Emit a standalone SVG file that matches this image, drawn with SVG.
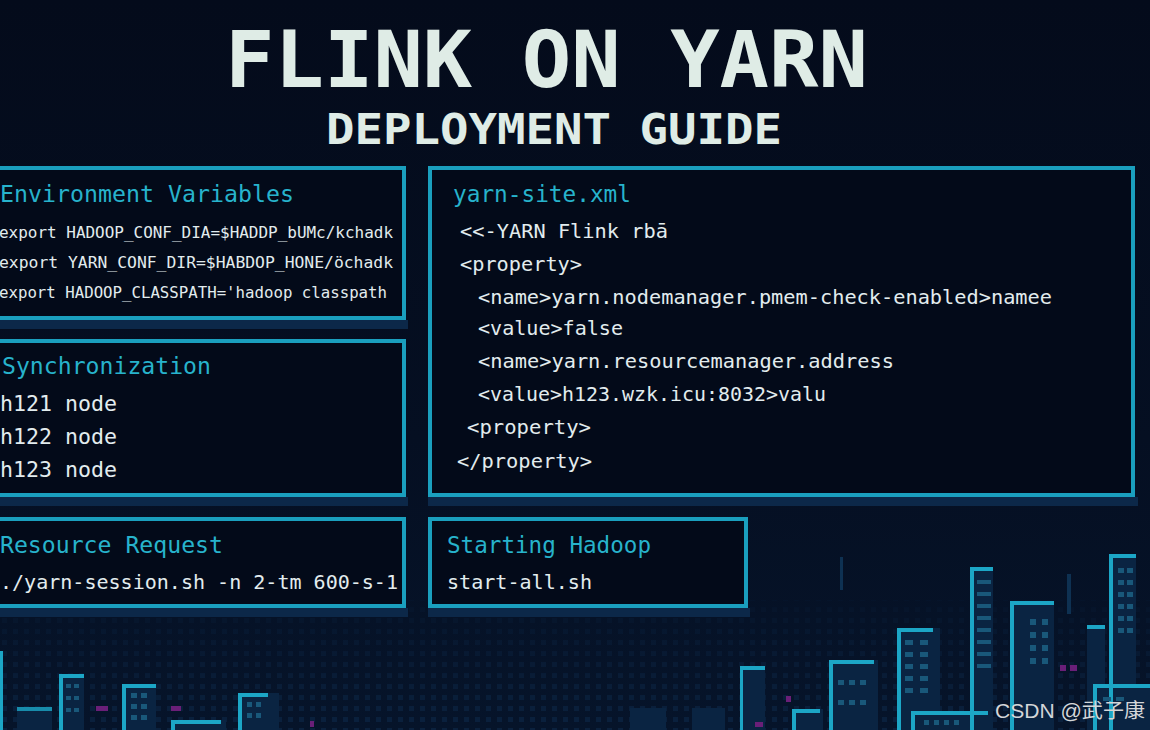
<svg xmlns="http://www.w3.org/2000/svg" width="1150" height="730" viewBox="0 0 1150 730">
<defs>
<linearGradient id="bg" x1="0" y1="0" x2="0" y2="1">
<stop offset="0" stop-color="#040b1b"/>
<stop offset="0.6" stop-color="#050f22"/>
<stop offset="1" stop-color="#06142a"/>
</linearGradient>
<pattern id="grid" width="11" height="11" patternUnits="userSpaceOnUse">
<rect x="2" y="2" width="5" height="5" fill="#0d2746"/>
</pattern>
<linearGradient id="fadeG" x1="0" y1="0" x2="0" y2="1">
<stop offset="0" stop-color="#fff" stop-opacity="0.15"/>
<stop offset="1" stop-color="#fff" stop-opacity="0.9"/>
</linearGradient>
<mask id="fade"><rect x="0" y="600" width="1150" height="130" fill="url(#fadeG)"/></mask>
</defs>
<style>
.box{fill:#030a19;stroke:#1a9fbe;stroke-width:4}
.shadow{fill:#0c2849}
.title{font-family:"DejaVu Sans Mono",monospace;font-weight:bold;fill:#dfece6}
.head{font-family:"DejaVu Sans Mono",monospace;fill:#27b3cc}
.body{font-family:"DejaVu Sans Mono",monospace;fill:#e2ecee}
.bld{fill:#0a2442}
.edge{fill:#1ca6c6}
.win{fill:#19587a}
.mag{fill:#6a1f78}
.wm{font-family:"Liberation Sans","Noto Sans CJK SC",sans-serif;fill:#d4d6d8}
</style>
<rect x="0" y="0" width="1150" height="730" fill="url(#bg)"/>
<rect x="0" y="600" width="1150" height="130" fill="url(#grid)" mask="url(#fade)" opacity="0.8"/>

<!-- city skyline -->
<g id="city">
<g class="bld">
<rect x="0" y="651" width="3" height="79"/>
<rect x="17" y="707" width="35" height="23"/>
<rect x="59" y="674" width="25" height="56"/>
<rect x="122" y="684" width="34" height="46"/>
<rect x="238" y="693" width="41" height="37"/>
<rect x="171" y="720" width="55" height="10"/>
<rect x="630" y="708" width="36" height="22"/>
<rect x="692" y="708" width="33" height="22"/>
<rect x="740" y="666" width="25" height="64"/>
<rect x="792" y="709" width="31" height="21"/>
<rect x="829" y="660" width="49" height="70"/>
<rect x="897" y="628" width="43" height="102"/>
<rect x="970" y="567" width="23" height="163"/>
<rect x="1010" y="601" width="44" height="129"/>
<rect x="1087" y="625" width="18" height="105"/>
<rect x="1109" y="554" width="27" height="176"/>
<rect x="911" y="711" width="77" height="19"/>
<rect x="1093" y="684" width="57" height="46"/>
</g>
<g class="edge">
<rect x="0" y="651" width="3" height="79"/>
<rect x="17" y="707" width="35" height="4" opacity="0.8"/>
<rect x="59" y="674" width="25" height="4"/><rect x="59" y="674" width="4" height="56"/>
<rect x="122" y="684" width="34" height="4"/><rect x="122" y="684" width="4" height="46"/>
<rect x="238" y="693" width="30" height="4"/><rect x="238" y="693" width="4" height="37"/>
<rect x="171" y="720" width="50" height="4"/><rect x="171" y="720" width="4" height="10"/>
<rect x="740" y="666" width="25" height="4"/><rect x="740" y="666" width="3" height="64"/>
<rect x="792" y="709" width="28" height="4"/><rect x="792" y="709" width="4" height="21"/>
<rect x="829" y="660" width="45" height="4"/><rect x="829" y="660" width="4" height="70"/>
<rect x="897" y="628" width="36" height="4"/><rect x="897" y="628" width="4" height="102"/>
<rect x="970" y="567" width="23" height="4"/><rect x="970" y="567" width="4" height="163"/>
<rect x="1010" y="601" width="44" height="4"/><rect x="1010" y="601" width="4" height="129"/>
<rect x="1087" y="625" width="18" height="4"/>
<rect x="1109" y="554" width="27" height="4"/><rect x="1109" y="554" width="4" height="176"/>
<rect x="911" y="711" width="77" height="4"/><rect x="911" y="711" width="4" height="19"/>
<rect x="1093" y="684" width="57" height="4"/><rect x="1093" y="684" width="4" height="46"/>
</g>
<g class="win">
<rect x="66" y="684" width="5" height="4"/><rect x="74" y="684" width="5" height="4"/>
<rect x="66" y="696" width="5" height="4"/><rect x="74" y="696" width="5" height="4"/>
<rect x="66" y="708" width="5" height="4"/><rect x="74" y="708" width="5" height="4"/>
<rect x="131" y="693" width="6" height="5"/><rect x="141" y="693" width="6" height="5"/>
<rect x="131" y="704" width="6" height="5"/><rect x="141" y="704" width="6" height="5"/>
<rect x="131" y="715" width="6" height="5"/><rect x="141" y="715" width="6" height="5"/>
<rect x="247" y="702" width="5" height="5"/><rect x="256" y="702" width="5" height="5"/>
<rect x="247" y="713" width="5" height="5"/><rect x="256" y="713" width="5" height="5"/>
<rect x="838" y="680" width="6" height="5"/><rect x="849" y="680" width="6" height="5"/><rect x="860" y="680" width="6" height="5"/>
<rect x="838" y="700" width="6" height="5"/><rect x="849" y="700" width="6" height="5"/><rect x="860" y="700" width="6" height="5"/>
<rect x="905" y="640" width="8" height="5"/><rect x="920" y="640" width="8" height="5"/>
<rect x="905" y="652" width="8" height="5"/><rect x="920" y="652" width="8" height="5"/>
<rect x="905" y="664" width="8" height="5"/><rect x="920" y="664" width="8" height="5"/>
<rect x="905" y="676" width="8" height="5"/><rect x="920" y="676" width="8" height="5"/>
<rect x="905" y="688" width="8" height="5"/><rect x="920" y="688" width="8" height="5"/>
<rect x="977" y="580" width="14" height="4"/><rect x="977" y="592" width="14" height="4"/>
<rect x="977" y="604" width="14" height="4"/><rect x="977" y="616" width="14" height="4"/>
<rect x="977" y="628" width="14" height="4"/><rect x="977" y="640" width="14" height="4"/>
<rect x="977" y="652" width="14" height="4"/><rect x="977" y="664" width="14" height="4"/>
<rect x="1030" y="619" width="6" height="6"/><rect x="1042" y="619" width="6" height="6"/>
<rect x="1030" y="632" width="6" height="6"/><rect x="1042" y="632" width="6" height="6"/>
<rect x="1030" y="645" width="6" height="6"/><rect x="1042" y="645" width="6" height="6"/>
<rect x="1030" y="658" width="6" height="6"/><rect x="1042" y="658" width="6" height="6"/>
<rect x="1118" y="568" width="6" height="5"/><rect x="1127" y="568" width="6" height="5"/>
<rect x="1118" y="580" width="6" height="5"/><rect x="1127" y="580" width="6" height="5"/>
<rect x="1118" y="592" width="6" height="5"/><rect x="1127" y="592" width="6" height="5"/>
<rect x="1118" y="604" width="6" height="5"/><rect x="1127" y="604" width="6" height="5"/>
<rect x="1118" y="616" width="6" height="5"/><rect x="1127" y="616" width="6" height="5"/>
<rect x="1118" y="628" width="6" height="5"/><rect x="1127" y="628" width="6" height="5"/>
<rect x="924" y="720" width="5" height="5"/><rect x="934" y="720" width="5" height="5"/><rect x="944" y="720" width="5" height="5"/><rect x="954" y="720" width="5" height="5"/>
<rect x="1103" y="697" width="8" height="4"/><rect x="1116" y="697" width="8" height="4"/>
</g>
<rect x="840" y="557" width="3" height="33" fill="#0e3152"/>
<rect x="1067" y="574" width="4" height="40" fill="#0e3152"/>
<g class="mag">
<rect x="1060" y="665" width="6" height="6"/><rect x="1070" y="665" width="7" height="6"/>
<rect x="786" y="696" width="5" height="6"/>
<rect x="96" y="706" width="12" height="5"/><rect x="171" y="706" width="10" height="5"/>
<rect x="310" y="721" width="4" height="6"/>
<rect x="755" y="722" width="8" height="5"/>
</g>
</g>

<!-- title -->
<g id="header">
<text class="title" x="225" y="87" font-size="79" textLength="643" lengthAdjust="spacingAndGlyphs">FLINK ON YARN</text>
<text class="title" x="326" y="144" font-size="43" textLength="456" lengthAdjust="spacingAndGlyphs">DEPLOYMENT GUIDE</text>
</g>

<g id="connectors"/>

<!-- Environment Variables -->
<g id="node-env">
<rect class="shadow" x="-10" y="320" width="418" height="9"/>
<rect class="box" x="-10" y="168" width="414" height="150"/>
<text class="head" x="0" y="202" font-size="23" textLength="294" lengthAdjust="spacingAndGlyphs">Environment Variables</text>
<text class="body" x="-1" y="238" font-size="16" textLength="394" lengthAdjust="spacingAndGlyphs">export HADOOP_CONF_DIA=$HADDP_bUMc/kchadk</text>
<text class="body" x="-1" y="268" font-size="16" textLength="394" lengthAdjust="spacingAndGlyphs">export YARN_CONF_DIR=$HABDOP_HONE/öchadk</text>
<text class="body" x="-1" y="298" font-size="16" textLength="388" lengthAdjust="spacingAndGlyphs">export HADOOP_CLASSPATH='hadoop classpath</text>
</g>

<!-- Synchronization -->
<g id="node-sync">
<rect class="shadow" x="-10" y="497" width="418" height="9"/>
<rect class="box" x="-10" y="341" width="414" height="154"/>
<text class="head" x="2" y="374" font-size="23" textLength="209" lengthAdjust="spacingAndGlyphs">Synchronization</text>
<text class="body" x="0" y="411" font-size="21" textLength="117" lengthAdjust="spacingAndGlyphs">h121 node</text>
<text class="body" x="0" y="444" font-size="21" textLength="117" lengthAdjust="spacingAndGlyphs">h122 node</text>
<text class="body" x="0" y="477" font-size="21" textLength="117" lengthAdjust="spacingAndGlyphs">h123 node</text>
</g>

<!-- Resource Request -->
<g id="node-resource">
<rect class="shadow" x="-10" y="608" width="418" height="9"/>
<rect class="box" x="-10" y="519" width="414" height="87"/>
<text class="head" x="0" y="553" font-size="23" textLength="223" lengthAdjust="spacingAndGlyphs">Resource Request</text>
<text class="body" x="0" y="589" font-size="20" textLength="398" lengthAdjust="spacingAndGlyphs">./yarn-session.sh -n 2-tm 600-s-1</text>
</g>

<!-- yarn-site.xml -->
<g id="node-yarnsite">
<rect class="shadow" x="428" y="497" width="710" height="9"/>
<rect class="box" x="430" y="168" width="703" height="327"/>
<text class="head" x="453" y="202" font-size="23" textLength="178" lengthAdjust="spacingAndGlyphs">yarn-site.xml</text>
<text class="body" x="460" y="238" font-size="20" textLength="208" lengthAdjust="spacingAndGlyphs">&lt;&lt;-YARN Flink rbā</text>
<text class="body" x="460" y="271" font-size="20" textLength="122" lengthAdjust="spacingAndGlyphs">&lt;property&gt;</text>
<text class="body" x="478" y="304" font-size="20" textLength="574" lengthAdjust="spacingAndGlyphs">&lt;name&gt;yarn.nodemanager.pmem-check-enabled&gt;namee</text>
<text class="body" x="478" y="335" font-size="20" textLength="145" lengthAdjust="spacingAndGlyphs">&lt;value&gt;false</text>
<text class="body" x="478" y="368" font-size="20" textLength="416" lengthAdjust="spacingAndGlyphs">&lt;name&gt;yarn.resourcemanager.address</text>
<text class="body" x="478" y="401" font-size="20" textLength="348" lengthAdjust="spacingAndGlyphs">&lt;value&gt;h123.wzk.icu:8032&gt;valu</text>
<text class="body" x="467" y="434" font-size="20" textLength="124" lengthAdjust="spacingAndGlyphs">&lt;property&gt;</text>
<text class="body" x="457" y="468" font-size="20" textLength="135" lengthAdjust="spacingAndGlyphs">&lt;/property&gt;</text>
</g>

<!-- Starting Hadoop -->
<g id="node-hadoop">
<rect class="shadow" x="428" y="608" width="322" height="9"/>
<rect class="box" x="430" y="519" width="316" height="87"/>
<text class="head" x="447" y="553" font-size="23" textLength="204" lengthAdjust="spacingAndGlyphs">Starting Hadoop</text>
<text class="body" x="447" y="589" font-size="20" textLength="145" lengthAdjust="spacingAndGlyphs">start-all.sh</text>
</g>

<text class="wm" x="995" y="718" font-size="20" textLength="150" lengthAdjust="spacingAndGlyphs">CSDN @武子康</text>
</svg>
